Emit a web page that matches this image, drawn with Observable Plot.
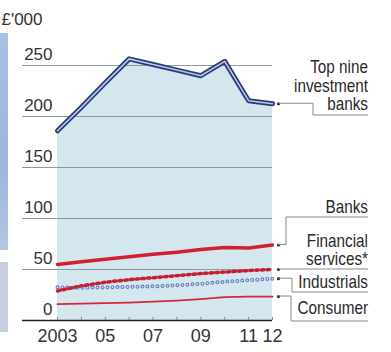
<!DOCTYPE html>
<html><head><meta charset="utf-8">
<script src="https://cdn.jsdelivr.net/npm/d3@7"></script>
<script src="https://cdn.jsdelivr.net/npm/@observablehq/plot@0.6"></script>
<style>
body{margin:0;background:#fff;}
#wrap{position:relative;width:391px;height:352px;overflow:hidden;background:#fff}
#strip1{position:absolute;left:0;top:33px;width:8px;height:217px;background:linear-gradient(#a8c0e2,#9cb6dc 60%,#b4c6e4)}
#strip2{position:absolute;left:0;top:262px;width:8px;height:70px;background:#c9cde2}
#chart{position:absolute;left:0;top:0}
</style></head><body>
<div id="wrap"><div id="strip1"></div><div id="strip2"></div><div id="chart"></div></div>
<script>
const years = [2003, 2004, 2005, 2006, 2007, 2008, 2009, 2010, 2011, 2012];
const topNine = [186, 209, 233, 256.5, 251, 245.5, 240, 254, 215.5, 212.5];
const banks = [55, 57.5, 60, 62.5, 65, 67, 69.5, 71.5, 71, 74];
const finServ = [29, 34, 37.5, 40, 42, 44, 46, 47.5, 49, 50];
const industrials = [32.5, 32, 32.5, 33, 33.5, 34.5, 36, 38, 39.5, 41];
const consumer = [16, 16.5, 17, 17.5, 18.5, 19.5, 21, 23, 23.5, 23.5];
const yTicks = [0, 50, 100, 150, 200, 250];
const xTickLabels = [2003, 2005, 2007, 2009, 2011, 2012];
const unitLabel = "£'000";
const labelTop = ["Top nine", "investment", "banks"];
const labelBanks = ["Banks"];
const labelFin = ["Financial", "services*"];
const labelInd = ["Industrials"];
const labelCons = ["Consumer"];

const rows = arr => years.map((year, i) => ({year, value: arr[i]}));
const topRows = rows(topNine);
const bankRows = rows(banks);
const finRows = rows(finServ);
const indRows = rows(industrials);
const consRows = rows(consumer);
const last = r => r[r.length - 1];
const endRows = [topRows, bankRows, finRows, indRows, consRows].map(last);

const areaFill = "#d4e6ee";
const plot = Plot.plot({
  width: 391, height: 352,
  marginLeft: 57, marginRight: 119, marginTop: 65, marginBottom: 32,
  x: {domain: [2003, 2012], label: null},
  y: {domain: [0, 250], label: null},
  style: {fontFamily: "'Liberation Sans', Arial, sans-serif", fontSize: "17px", color: "#333", background: "transparent", overflow: "visible"},
  marks: [
    Plot.areaY(topRows, {x: "year", y: "value", fill: areaFill}),
    Plot.ruleY(yTicks.filter(d => d > 0), {stroke: "#8d999e", strokeWidth: 1, insetLeft: -35}),
    Plot.ruleY([0], {stroke: "#222", strokeWidth: 1.4, insetLeft: -35}),
    Plot.ruleX(years, {y1: 0, y2: 3, stroke: "#888", strokeWidth: 1}),
    Plot.axisY({ticks: yTicks, tickSize: 0, tickPadding: 5, dy: -11, fontSize: 17, fill: "#333", label: null}),
    Plot.axisX(xTickLabels, {tickSize: 0, tickPadding: 9, fontSize: 18, fill: "#333", label: null,
      tickFormat: d => d === 2003 ? "2003" : String(d).slice(2)}),
    Plot.line(consRows, {x: "year", y: "value", stroke: "#d2283a", strokeWidth: 1.8}),
    Plot.line(indRows, {x: "year", y: "value", stroke: "#6a7cc0", strokeWidth: 4, strokeDasharray: "0,5", strokeLinecap: "round"}),
    Plot.line(indRows, {x: "year", y: "value", stroke: areaFill, strokeWidth: 1.8, strokeDasharray: "0,5", strokeLinecap: "round"}),
    Plot.line(finRows, {x: "year", y: "value", stroke: "#c61e33", strokeWidth: 3.5, strokeDasharray: "2.5,3.2"}),
    Plot.line(bankRows, {x: "year", y: "value", stroke: "#d21f32", strokeWidth: 3.5}),
    Plot.line(topRows, {x: "year", y: "value", stroke: "#2b3a78", strokeWidth: 5}),
    Plot.line(topRows, {x: "year", y: "value", stroke: "#b8c5e8", strokeWidth: 1.6}),
    Plot.dot(endRows, {x: "year", y: "value", dx: 6, r: 1.6, fill: "#222"})
  ]
});
document.getElementById("chart").appendChild(plot);

// annotations: unit label and leader lines with series labels
const svg = d3.select(plot);
const xs = plot.scale("x"), ys = plot.scale("y");
svg.append("text").attr("x", 22).attr("y", 25).attr("fill", "#333")
  .style("font-size", "17px").text(unitLabel);

const labelRight = 368;
const layout = [
  {row: last(topRows), lines: labelTop, elbow: 313, under: 115, base: 110},
  {row: last(bankRows), lines: labelBanks, elbow: 286, under: 217, base: 213},
  {row: last(finRows), lines: labelFin, elbow: null, under: null, base: 265},
  {row: last(indRows), lines: labelInd, elbow: 292, under: 292, base: 288},
  {row: last(consRows), lines: labelCons, elbow: 291, under: 321, base: 314}
];
const g = svg.append("g");
for (const L of layout) {
  const sx = xs.apply(L.row.year) + 6, sy = ys.apply(L.row.value);
  const ex = L.elbow ?? sx, uy = L.under ?? sy;
  g.append("path").attr("d", `M${sx},${sy}H${ex}V${uy}H${labelRight}`)
    .attr("fill", "none").attr("stroke", "#8a8a8a").attr("stroke-width", 1);
  L.lines.forEach((t, i) => {
    const by = L.base - (L.lines.length - 1 - i) * 18.5;
    g.append("text")
      .attr("transform", `translate(${labelRight},${by}) scale(0.85,1)`)
      .attr("text-anchor", "end").attr("fill", "#2a2a2a")
      .style("font-family", "'Liberation Sans', Arial, sans-serif")
      .style("font-size", "18px").text(t);
  });
}
</script>
</body></html>
